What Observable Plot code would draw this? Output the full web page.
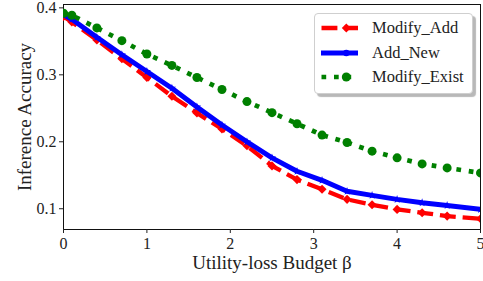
<!DOCTYPE html>
<html><head><meta charset="utf-8">
<script src="https://cdn.jsdelivr.net/npm/d3@7"></script>
<script src="https://cdn.jsdelivr.net/npm/@observablehq/plot@0.6"></script>
<style>
body{margin:0;background:#fff;}
#wrap{position:relative;width:483px;height:281px;}
#wrap svg.plot{position:absolute;left:0;top:0;}
.legend{position:absolute;left:314px;top:13px;width:157px;height:79px;border:1px solid #cfcfcf;border-radius:4px;background:#fff;box-shadow:3px 3px 1px rgba(0,0,0,0.28);font-family:"Liberation Serif",serif;font-size:16.5px;color:#222;}
.row{position:absolute;left:0;height:20px;}
.row svg{position:absolute;left:6px;top:4px;}
.row span{position:absolute;left:57px;top:0px;line-height:20px;white-space:nowrap;}
</style>
</head><body>
<div id="wrap"></div>
<script>
const budgets = [0, 0.1, 0.4, 0.7, 1.0, 1.3, 1.6, 1.9, 2.2, 2.5, 2.8, 3.1, 3.4, 3.7, 4.0, 4.3, 4.6, 5.0];
const modifyAdd = [0.387, 0.379, 0.352, 0.324, 0.296, 0.268, 0.243, 0.219, 0.194, 0.164, 0.1435, 0.129, 0.114, 0.106, 0.099, 0.094, 0.089, 0.085];
const addNew = [0.390, 0.383, 0.356, 0.330, 0.305, 0.280, 0.252, 0.225, 0.200, 0.176, 0.156, 0.1425, 0.126, 0.120, 0.114, 0.109, 0.105, 0.099];
const modifyExist = [0.392, 0.389, 0.370, 0.351, 0.331, 0.314, 0.296, 0.278, 0.260, 0.2435, 0.227, 0.210, 0.199, 0.186, 0.176, 0.167, 0.161, 0.1535];
const seriesNames = ["Modify_Add", "Add_New", "Modify_Exist"];
const xTicks = [0, 1, 2, 3, 4, 5];
const yTicks = [0.1, 0.2, 0.3, 0.4];
const xLabel = "Utility-loss Budget β";
const yLabel = "Inference Accuracy";

const rows = (vals) => budgets.map((b, i) => ({b, v: vals[i]}));
const dA = rows(modifyAdd), dN = rows(addNew), dE = rows(modifyExist);
const serif = "Liberation Serif, serif";

const chart = Plot.plot({
  width: 483, height: 281,
  marginLeft: 63, marginRight: 3, marginTop: 4, marginBottom: 52,
  style: {fontFamily: serif, fontSize: "16px", color: "#222", background: "white"},
  x: {domain: [0, 5]},
  y: {domain: [0.069, 0.405]},
  marks: [
    Plot.frame({stroke: "#111"}),
    Plot.axisX({ticks: xTicks, tickSize: 4, tickPadding: 4, tickFormat: d3.format("d"), label: null, fontSize: 16}),
    Plot.axisY({ticks: yTicks, tickSize: 4, tickPadding: 3, tickFormat: d3.format(".1f"), label: null, fontSize: 16}),
    Plot.text([xLabel], {frameAnchor: "bottom", dy: 33, text: d => d, textAnchor: "middle", lineAnchor: "middle", fontSize: 19, fontFamily: serif, fill: "#222"}),
    Plot.text([yLabel], {frameAnchor: "left", dx: -39, rotate: -90, text: d => d, textAnchor: "middle", lineAnchor: "middle", fontSize: 19, fontFamily: serif, fill: "#222"}),
    Plot.line(dA, {x: "b", y: "v", stroke: "#ff0000", strokeWidth: 4.3, strokeDasharray: "15.9,6.9", strokeLinecap: "butt", strokeLinejoin: "round", clip: true}),
    Plot.dot(dA, {x: "b", y: "v", symbol: "diamond2", r: 4.1, fill: "#ff0000", stroke: "none", clip: true}),
    Plot.line(dN, {x: "b", y: "v", stroke: "#0000ff", strokeWidth: 5, strokeLinecap: "butt", strokeLinejoin: "round", clip: true}),
    Plot.dot(dN, {x: "b", y: "v", symbol: "star", r: 2.6, fill: "#0000ff", stroke: "none", clip: true}),
    Plot.line(dE, {x: "b", y: "v", stroke: "#008000", strokeWidth: 4.7, strokeDasharray: "4.7,7.8", strokeLinecap: "butt", clip: true}),
    Plot.dot(dE, {x: "b", y: "v", symbol: "circle", r: 4.5, fill: "#008000", stroke: "none", clip: true})
  ]
});
chart.classList.add("plot");
const wrap = document.getElementById("wrap");
wrap.appendChild(chart);

// legend
const leg = document.createElement("div");
leg.className = "legend";
const sw = [
  `<svg width="40" height="12"><line x1="0.5" y1="6" x2="37" y2="6" stroke="#ff0000" stroke-width="4.3" stroke-dasharray="15.9,6.9"/><path d="M25.3,1.5 L29.8,6 L25.3,10.5 L20.8,6Z" fill="#ff0000"/></svg>`,
  `<svg width="40" height="12"><line x1="0" y1="6" x2="37" y2="6" stroke="#0000ff" stroke-width="5"/><circle cx="25.3" cy="6" r="3.2" fill="#0000ff"/></svg>`,
  `<svg width="40" height="12"><line x1="0.5" y1="6" x2="37" y2="6" stroke="#008000" stroke-width="4.7" stroke-dasharray="4.7,7.8"/><circle cx="25.3" cy="6" r="4.5" fill="#008000"/></svg>`
];
const tops = [4, 28.5, 53];
seriesNames.forEach((n, i) => {
  const r = document.createElement("div");
  r.className = "row";
  r.style.top = tops[i] + "px";
  r.innerHTML = sw[i] + `<span>${n}</span>`;
  leg.appendChild(r);
});
wrap.appendChild(leg);
</script>
</body></html>
